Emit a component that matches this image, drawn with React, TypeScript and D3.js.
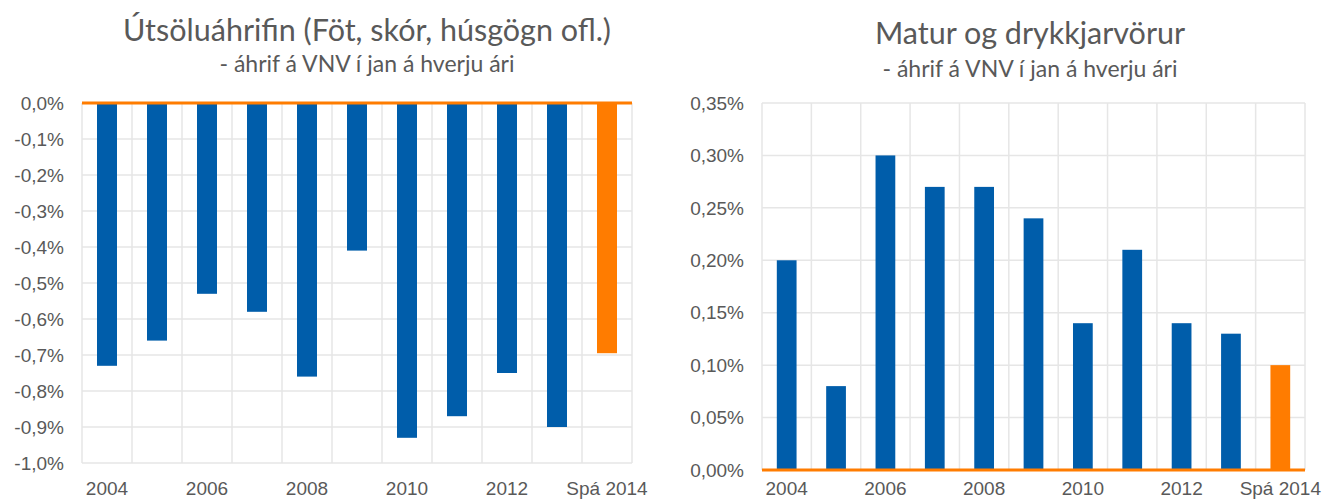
import React from 'react';
import * as d3 from 'd3';

const categories = ['2004', '2005', '2006', '2007', '2008', '2009', '2010', '2011', '2012', '2013', 'Spá 2014'];
const tickLabels = ['2004', '2006', '2008', '2010', '2012', 'Spá 2014'];

// útsöluáhrif, % á VNV
const saleValues = [-0.73, -0.66, -0.53, -0.58, -0.76, -0.41, -0.93, -0.87, -0.75, -0.9, -0.695];
// matur og drykkjarvörur, % á VNV
const foodValues = [0.2, 0.08, 0.3, 0.27, 0.27, 0.24, 0.14, 0.21, 0.14, 0.13, 0.1];

const saleTicks = [0, -0.1, -0.2, -0.3, -0.4, -0.5, -0.6, -0.7, -0.8, -0.9, -1.0];
const foodTicks = [0, 0.05, 0.1, 0.15, 0.2, 0.25, 0.3, 0.35];

const BLUE = '#005DAA';
const ORANGE = '#FF7C00';
const GRID = '#e6e6e6';
const TEXT = '#595959';

type ChartProps = {
  title: string;
  subtitle: string;
  values: number[];
  ticks: number[];
  domain: [number, number];
  decimals: number;
  left: number;
  right: number;
  top: number;
  bottom: number;
  titleY: number;
  subY: number;
  titleX: number;
  labelY: number;
};

const Chart = ({ title, subtitle, values, ticks, domain, decimals, left, right, top, bottom, titleY, subY, titleX, labelY }: ChartProps) => {
  const x = d3.scaleBand().domain(categories).range([left, right]).paddingInner(0.6).paddingOuter(0.3);
  const y = d3.scaleLinear().domain(domain).range([bottom, top]);
  const step = x.step();
  const fmt = (v: number) => v.toFixed(decimals).replace('.', ',') + '%';
  const zeroY = y(0);

  return (
    <g>
      <text x={titleX} y={titleY} textAnchor="middle" fontFamily="Lato, sans-serif" fontSize={30.5} fill={TEXT}>{title}</text>
      <text x={titleX} y={subY} textAnchor="middle" fontFamily="Lato, sans-serif" fontSize={23} fill={TEXT}>{subtitle}</text>

      {ticks.map((t) => (
        <line key={'h' + t} x1={left} x2={right} y1={y(t)} y2={y(t)} stroke={GRID} strokeWidth={1.5} />
      ))}
      {d3.range(categories.length + 1).map((i) => (
        <line key={'v' + i} x1={left + i * step} x2={left + i * step} y1={top} y2={bottom} stroke={GRID} strokeWidth={1.5} />
      ))}

      {values.map((v, i) => (
        <rect
          key={categories[i]}
          x={x(categories[i])}
          width={x.bandwidth()}
          y={Math.min(y(v), zeroY)}
          height={Math.abs(y(v) - zeroY)}
          fill={i === values.length - 1 ? ORANGE : BLUE}
        />
      ))}

      <line x1={left} x2={right} y1={zeroY} y2={zeroY} stroke={ORANGE} strokeWidth={3} />

      {ticks.map((t) => (
        <text key={'l' + t} x={left - 18} y={y(t)} dy="0.35em" textAnchor="end" fontFamily="'Liberation Sans', Arial, sans-serif" fontSize={19} fill={TEXT}>
          {fmt(t)}
        </text>
      ))}
      {tickLabels.map((c) => (
        <text key={'x' + c} x={(x(c) as number) + x.bandwidth() / 2} y={labelY} textAnchor="middle" fontFamily="'Liberation Sans', Arial, sans-serif" fontSize={19} fill={TEXT}>
          {c}
        </text>
      ))}
    </g>
  );
};

export default function App() {
  return (
    <svg width={1325} height={501} style={{ position: 'absolute', left: 0, top: 0, background: '#fff' }}>
      <Chart
        title="Útsöluáhrifin (Föt, skór, húsgögn ofl.)"
        subtitle="- áhrif á VNV í jan á hverju ári"
        values={saleValues}
        ticks={saleTicks}
        domain={[-1.0, 0]}
        decimals={1}
        left={82}
        right={632}
        top={103}
        bottom={463}
        titleX={367}
        titleY={41}
        subY={72}
        labelY={495}
      />
      <Chart
        title="Matur og drykkjarvörur"
        subtitle="- áhrif á VNV í jan á hverju ári"
        values={foodValues}
        ticks={foodTicks}
        domain={[0, 0.35]}
        decimals={2}
        left={762}
        right={1305}
        top={103}
        bottom={470}
        titleX={1030}
        titleY={44}
        subY={77}
        labelY={495}
      />
    </svg>
  );
}
